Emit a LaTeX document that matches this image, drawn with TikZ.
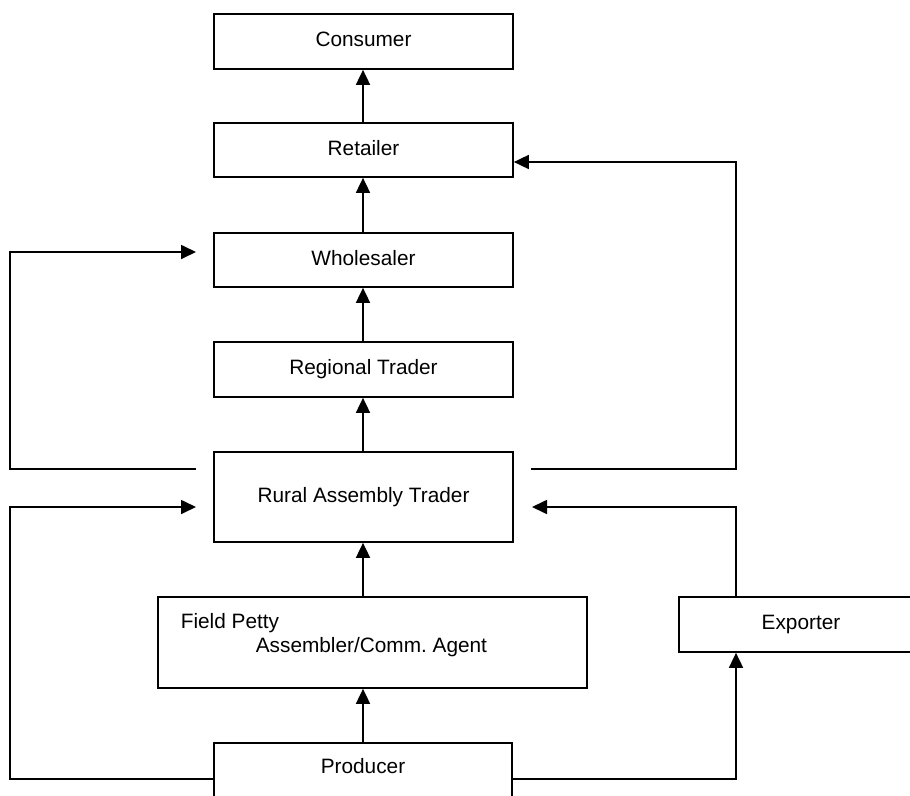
\documentclass[tikz,border=0pt]{standalone}
\usepackage{fontspec}
\setmainfont{Liberation Sans}
\usetikzlibrary{arrows.meta}
\frenchspacing

\begin{document}
\begin{tikzpicture}[x=1pt,y=-1pt,
  line width=1.7pt,
  font=\fontsize{20.8}{25}\selectfont,
  box/.style={draw=black, rectangle, inner sep=0pt, line width=1.7pt,
              text height=15pt, text depth=4.5pt},
  txt/.style={inner sep=0pt},
  arr/.style={-{Triangle[length=15pt,width=14pt]}, line width=1.7pt}]

  \useasboundingbox (0,0) rectangle (910,795);
  \clip (0,0) rectangle (910,795);

  % main chain of traders
  \node[box, minimum width=299pt, minimum height=55pt] (cons)  at (363.5,41.5) {Consumer};
  \node[box, minimum width=299pt, minimum height=54pt] (ret)   at (363.5,150)  {Retailer};
  \node[box, minimum width=299pt, minimum height=54pt] (whole) at (363.5,260)  {Wholesaler};
  \node[box, minimum width=299pt, minimum height=55pt] (reg)   at (363.5,369.5) {Regional Trader};
  \node[box, minimum width=299pt, minimum height=90pt] (rural) at (363.5,497)  {Rural Assembly Trader};

  % field petty assembler box with its two-line text
  \node[box, minimum width=429pt, minimum height=91pt] (fp) at (372.5,642.5) {};
  \node[txt, anchor=base west] (fpa) at (180,628) {Field Petty};
  \node[txt, anchor=base west] (fpb) at (255,652) {Assembler/Comm. Agent};

  % producer runs off the lower edge, exporter off the right edge
  \node[box, minimum width=298pt, minimum height=72pt] (prod) at (363,779) {};
  \node[txt, anchor=base] (prodtxt) at (363,773) {Producer};
  \node[box, minimum width=244pt, minimum height=55pt] (exp) at (801,624.5) {Exporter};

  % upward flow through the chain, all on one vertical axis
  \coordinate (axis) at (363,0);
  \draw[arr] (axis |- prod.north)  -- (axis |- fp.south);
  \draw[arr] (axis |- fp.north)    -- (axis |- rural.south);
  \draw[arr] (axis |- rural.north) -- (axis |- reg.south);
  \draw[arr] (axis |- reg.north)   -- (axis |- whole.south);
  \draw[arr] (axis |- whole.north) -- (axis |- ret.south);
  \draw[arr] (axis |- ret.north)   -- (axis |- cons.south);

  % free ends and bends of the bypass routes
  \coordinate (ruLout) at (196,469);
  \coordinate (whIn)   at (196,252);
  \coordinate (ruRout) at (531,469);
  \coordinate (rtBend) at (736,162);
  \coordinate (ruLin)  at (196,507);
  \coordinate (ruRin)  at (532,507);
  \coordinate (exBend) at (736,507);
  \coordinate (lx)     at (10,0);

  % rural trader straight to wholesaler
  \draw[arr] (ruLout) -- (lx |- ruLout) -- (lx |- whIn) -- (whIn);
  % rural trader straight to retailer
  \draw[arr] (ruRout) -| (rtBend) -- (ret.east |- rtBend);
  % producer straight to rural trader
  \draw[arr] (prod.west) -- (lx |- prod.west) -- (lx |- ruLin) -- (ruLin);
  % producer to exporter
  \draw[arr] (prod.east) -| (exBend |- exp.south);
  % exporter to rural trader
  \draw[arr] (exBend |- exp.north) -- (exBend) -- (ruRin);
\end{tikzpicture}
\end{document}
